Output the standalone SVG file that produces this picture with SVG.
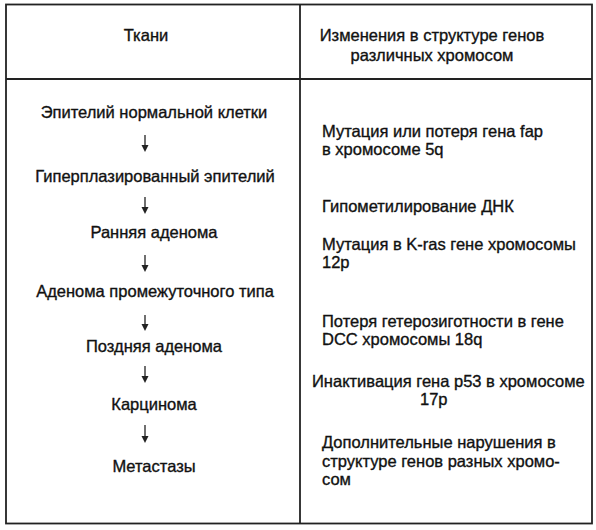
<svg xmlns="http://www.w3.org/2000/svg" width="596" height="530" viewBox="0 0 596 530">
<style>
  text { font-family: "Liberation Sans", Arial, sans-serif; font-size: 16.5px; fill: #111; stroke: #111; stroke-width: 0.35; }
  .c { text-anchor: middle; }
  .frame { fill: none; stroke: #222; stroke-width: 1.8; }
  .arr { stroke: #222; stroke-width: 1.3; fill: none; }
  .head { fill: #222; }
</style>
<rect width="596" height="530" fill="#fff"/>
<g id="table">
  <rect class="frame" x="6" y="4.5" width="586" height="519"/>
  <line class="frame" x1="300" y1="4.5" x2="300" y2="523.5"/>
  <line class="frame" x1="6" y1="79" x2="592" y2="79"/>
</g>
<g id="header-left"><text class="c" x="146" y="41">Ткани</text></g>
<g id="header-right">
  <text class="c" x="432" y="41">Изменения в структуре генов</text>
  <text class="c" x="432" y="61">различных хромосом</text>
</g>
<g id="n1"><text class="c" x="154" y="118">Эпителий нормальной клетки</text></g>
<g id="n2"><text class="c" x="155" y="182">Гиперплазированный эпителий</text></g>
<g id="n3"><text class="c" x="154" y="238">Ранняя аденома</text></g>
<g id="n4"><text class="c" x="155" y="297">Аденома промежуточного типа</text></g>
<g id="n5"><text class="c" x="154" y="352">Поздняя аденома</text></g>
<g id="n6"><text class="c" x="154" y="410">Карцинома</text></g>
<g id="n7"><text class="c" x="154" y="472">Метастазы</text></g>
<g id="connectors">
  <line class="arr" x1="145" y1="135" x2="145" y2="148"/>
  <path class="head" d="M141.5,145 L148.5,145 L145,152 Z"/>
  <line class="arr" x1="145" y1="197" x2="145" y2="210"/>
  <path class="head" d="M141.5,207 L148.5,207 L145,214 Z"/>
  <line class="arr" x1="145" y1="255" x2="145" y2="268"/>
  <path class="head" d="M141.5,265 L148.5,265 L145,272 Z"/>
  <line class="arr" x1="145" y1="315" x2="145" y2="327"/>
  <path class="head" d="M141.5,324 L148.5,324 L145,331 Z"/>
  <line class="arr" x1="145" y1="366" x2="145" y2="379"/>
  <path class="head" d="M141.5,376 L148.5,376 L145,383 Z"/>
  <line class="arr" x1="145" y1="425" x2="145" y2="439"/>
  <path class="head" d="M141.5,436 L148.5,436 L145,443 Z"/>
</g>
<g id="m1">
  <text x="322" y="137">Мутация или потеря гена fap</text>
  <text x="322" y="155">в хромосоме 5q</text>
</g>
<g id="m2"><text x="322" y="212">Гипометилирование ДНК</text></g>
<g id="m3">
  <text x="322" y="250">Мутация в K-ras гене хромосомы</text>
  <text x="322" y="268">12p</text>
</g>
<g id="m4">
  <text x="322" y="327">Потеря гетерозиготности в гене</text>
  <text x="322" y="345">DCC хромосомы 18q</text>
</g>
<g id="m5">
  <text x="312" y="387">Инактивация гена p53 в хромосоме</text>
  <text x="420" y="405">17p</text>
</g>
<g id="m6">
  <text x="322" y="448">Дополнительные нарушения в</text>
  <text x="322" y="467">структуре генов разных хромо-</text>
  <text x="322" y="485">сом</text>
</g>
</svg>
